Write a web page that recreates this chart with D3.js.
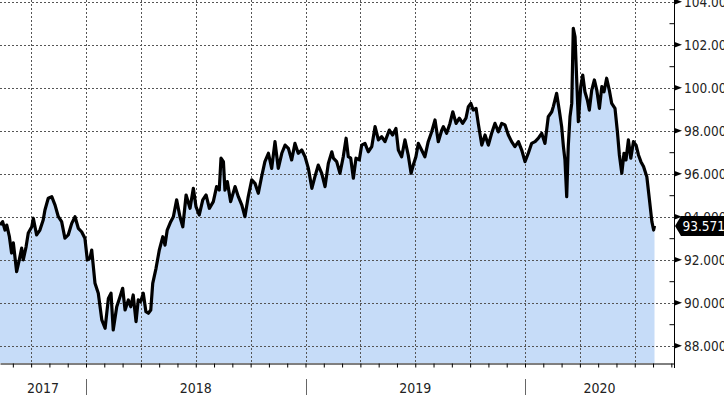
<!DOCTYPE html>
<html>
<head>
<meta charset="utf-8">
<script src="https://cdn.jsdelivr.net/npm/d3@7"></script>
<style>
body { margin: 0; background: #fff; }
svg { display: block; }
</style>
</head>
<body>
<div id="chart"></div>
<script>
// time as decimal years
var years = [
  2017.608,2017.620,2017.631,2017.639,2017.651,2017.661,2017.669,2017.684,2017.696,2017.707,
  2017.714,2017.727,2017.737,2017.753,2017.760,2017.775,2017.790,2017.805,2017.813,2017.828,
  2017.844,2017.859,2017.874,2017.889,2017.904,2017.919,2017.935,2017.950,2017.965,2017.980,
  2017.995,2018.006,2018.018,2018.026,2018.041,2018.056,2018.072,2018.087,2018.102,2018.114,
  2018.124,2018.140,2018.155,2018.167,2018.178,2018.193,2018.204,2018.215,2018.228,2018.238,
  2018.249,2018.261,2018.273,2018.284,2018.295,2018.304,2018.319,2018.334,2018.350,2018.360,
  2018.370,2018.386,2018.398,2018.413,2018.428,2018.441,2018.456,2018.474,2018.489,2018.501,
  2018.516,2018.532,2018.547,2018.562,2018.580,2018.595,2018.607,2018.615,2018.626,2018.633,
  2018.644,2018.659,2018.679,2018.694,2018.710,2018.724,2018.739,2018.755,2018.770,2018.785,
  2018.800,2018.815,2018.831,2018.846,2018.861,2018.876,2018.892,2018.907,2018.922,2018.937,
  2018.952,2018.967,2018.983,2018.998,2019.013,2019.029,2019.043,2019.058,2019.074,2019.089,
  2019.104,2019.120,2019.127,2019.142,2019.157,2019.172,2019.185,2019.195,2019.206,2019.218,
  2019.230,2019.245,2019.256,2019.271,2019.286,2019.302,2019.317,2019.332,2019.347,2019.362,
  2019.382,2019.397,2019.412,2019.423,2019.438,2019.453,2019.468,2019.481,2019.491,2019.503,
  2019.514,2019.529,2019.544,2019.559,2019.575,2019.590,2019.605,2019.621,2019.628,2019.643,
  2019.658,2019.671,2019.686,2019.701,2019.716,2019.731,2019.742,2019.753,2019.764,2019.777,
  2019.787,2019.803,2019.818,2019.833,2019.848,2019.863,2019.879,2019.894,2019.909,2019.924,
  2019.939,2019.954,2019.970,2019.985,2020.000,2020.015,2020.030,2020.046,2020.061,2020.076,
  2020.091,2020.106,2020.122,2020.129,2020.144,2020.156,2020.167,2020.175,2020.182,2020.190,
  2020.197,2020.205,2020.213,2020.220,2020.228,2020.235,2020.243,2020.254,2020.263,2020.273,
  2020.284,2020.293,2020.304,2020.316,2020.327,2020.339,2020.350,2020.360,2020.372,2020.384,
  2020.395,2020.410,2020.421,2020.430,2020.441,2020.451,2020.460,2020.471,2020.482,2020.494,
  2020.506,2020.517,2020.528,2020.540,2020.555,2020.567,2020.578,2020.586,2020.590
];

var values = [
  93.61,93.77,93.38,93.61,93.07,92.31,92.78,91.44,91.99,92.54,
  91.99,92.60,93.24,93.53,93.93,93.15,93.38,93.85,94.31,94.86,
  94.93,94.54,94.00,93.77,93.00,93.15,93.69,94.00,93.46,93.30,
  93.00,91.99,92.07,92.45,90.90,90.44,89.20,88.81,90.20,90.44,
  88.73,89.81,90.28,90.67,89.66,90.13,89.81,90.36,89.12,90.13,
  90.05,90.44,89.58,89.51,89.66,90.90,91.60,92.45,93.07,92.68,
  93.38,93.77,94.00,94.78,94.00,93.53,95.01,94.39,95.32,94.47,
  94.08,94.78,95.01,94.39,94.70,95.40,95.24,96.72,96.56,95.24,
  95.63,94.70,95.40,94.93,94.54,94.00,94.93,95.71,95.55,95.09,
  95.86,96.56,96.95,96.25,97.49,96.25,96.95,97.33,97.18,96.64,
  97.41,96.95,97.10,96.79,96.25,95.32,95.86,96.40,96.02,95.40,
  96.48,97.02,96.72,96.56,96.02,96.79,97.65,96.79,96.72,95.79,
  96.72,96.64,97.33,97.41,97.02,97.26,98.19,97.57,97.72,97.49,
  98.03,97.80,98.11,97.10,96.79,97.57,96.87,96.02,96.40,96.79,
  97.41,97.10,96.79,97.49,97.95,98.50,97.49,98.03,98.19,97.88,
  98.34,98.88,98.34,98.58,98.34,98.58,99.12,99.27,98.96,99.04,
  98.34,97.33,97.80,97.33,97.88,98.34,97.95,98.34,98.27,97.80,
  97.49,97.26,97.49,97.10,96.56,96.95,97.41,97.49,97.65,97.88,
  97.41,98.65,98.88,99.12,99.74,98.96,98.19,97.26,96.64,94.93,
  97.26,98.65,99.27,102.76,102.37,100.51,98.42,100.05,100.59,99.81,
  99.43,98.96,99.89,100.36,99.89,99.04,100.05,99.81,100.44,99.89,
  99.27,99.04,97.95,96.87,96.02,96.95,96.64,97.57,96.72,97.49,
  97.33,96.87,96.56,96.33,95.86,94.78,93.77,93.38,93.571
];

var yTicks = [88, 90, 92, 94, 96, 98, 100, 102, 104];
var yMinorTicks = [89, 91, 93, 95, 97, 99, 101, 103];
var yearLabels = [2017, 2018, 2019, 2020];
var lastValue = 93.571;

var width = 724, height = 395;
var plotRight = 674, plotBottom = 363;
var font = "'Liberation Sans Narrow', 'DejaVu Sans Condensed', 'Arial Narrow', sans-serif";

var data = years.map(function(t, i) { return {t: t, v: values[i]}; });

var svg = d3.select("#chart").append("svg")
  .attr("width", width)
  .attr("height", height);

// scales
var x = d3.scaleLinear()
  .domain([2017.6082, 2020.6788])
  .range([0, plotRight]);

var y = d3.scaleLinear()
  .domain([88, 104])
  .range([345.7, 1.7]);

var quarters = d3.range(2017.75, 2020.6, 0.25);
var months = d3.range(2017 + 8 / 12, 2020.68, 1 / 12);

// area under the line
svg.append("path")
  .datum(data)
  .attr("fill", "#c6dcf8")
  .attr("d", d3.area()
    .x(function(d) { return x(d.t); })
    .y0(plotBottom)
    .y1(function(d) { return y(d.v); }));

// dotted grid
var grid = svg.append("g")
  .attr("stroke", "#555")
  .attr("stroke-width", 1)
  .attr("stroke-dasharray", "2,2");

grid.selectAll("line.h").data(yTicks).enter().append("line")
  .attr("class", "h")
  .attr("x1", 0).attr("x2", plotRight)
  .attr("y1", function(d) { return Math.round(y(d)) + 0.5; })
  .attr("y2", function(d) { return Math.round(y(d)) + 0.5; });

grid.selectAll("line.v").data(quarters).enter().append("line")
  .attr("class", "v")
  .attr("y1", 0).attr("y2", plotBottom)
  .attr("x1", function(d) { return Math.round(x(d)) + 0.5; })
  .attr("x2", function(d) { return Math.round(x(d)) + 0.5; });

// price line
svg.append("path")
  .datum(data)
  .attr("fill", "none")
  .attr("stroke", "#000")
  .attr("stroke-width", 3.2)
  .attr("stroke-linejoin", "round")
  .attr("d", d3.line()
    .x(function(d) { return x(d.t); })
    .y(function(d) { return y(d.v); }));

// x axis with monthly ticks
var xAxis = d3.axisBottom(x)
  .tickValues(months)
  .tickSize(4)
  .tickSizeOuter(0)
  .tickFormat("");

svg.append("g")
  .attr("transform", "translate(0," + (plotBottom + 0.5) + ")")
  .call(xAxis)
  .call(function(g) {
    g.selectAll("path, line").attr("stroke", "#000");
  });

// year separators and labels
svg.selectAll("line.sep").data(yearLabels.slice(1)).enter().append("line")
  .attr("class", "sep")
  .attr("x1", function(d) { return Math.round(x(d)) + 0.5; })
  .attr("x2", function(d) { return Math.round(x(d)) + 0.5; })
  .attr("y1", 379).attr("y2", 395)
  .attr("stroke", "#666");

svg.selectAll("text.year").data(yearLabels).enter().append("text")
  .attr("class", "year")
  .attr("x", function(d) {
    var a = Math.max(x(d), 0), b = Math.min(x(d + 1), plotRight);
    return (a + b) / 2;
  })
  .attr("y", 393)
  .attr("text-anchor", "middle")
  .attr("font-family", font)
  .attr("font-size", 14)
  .attr("fill", "#222")
  .text(function(d) { return d; });

// right y axis
var yAxis = d3.axisRight(y)
  .tickValues(yTicks)
  .tickSize(0)
  .tickPadding(9.5)
  .tickFormat(d3.format(".3f"));

var yg = svg.append("g")
  .attr("transform", "translate(" + (plotRight + 0.5) + ",0)")
  .call(yAxis);

yg.select(".domain").remove();
yg.selectAll("text")
  .attr("font-family", font)
  .attr("font-size", 13.5)
  .attr("fill", "#222");

svg.append("line")
  .attr("x1", plotRight + 0.5).attr("x2", plotRight + 0.5)
  .attr("y1", 0).attr("y2", plotBottom + 5)
  .attr("stroke", "#000");

var yMinor = d3.axisLeft(y)
  .tickValues(yMinorTicks)
  .tickSize(5)
  .tickFormat("");

svg.append("g")
  .attr("transform", "translate(" + (plotRight + 0.5) + ",0)")
  .call(yMinor)
  .call(function(g) {
    g.select(".domain").remove();
    g.selectAll("line").attr("stroke", "#000");
  });

// arrow markers on the major ticks
svg.selectAll("path.arrow").data(yTicks).enter().append("path")
  .attr("class", "arrow")
  .attr("transform", function(d) { return "translate(" + plotRight + "," + y(d) + ")"; })
  .attr("d", "M0,-3L8,0L0,3Z")
  .attr("fill", "#000");

// last value tag
var ly = y(lastValue);
svg.append("path")
  .attr("transform", "translate(" + plotRight + "," + ly + ")")
  .attr("d", "M1,0L7,-10H50V10H7Z")
  .attr("fill", "#000");

svg.append("text")
  .attr("x", plotRight + 8.5)
  .attr("y", ly)
  .attr("dy", "0.36em")
  .attr("font-family", font)
  .attr("font-size", 13.5)
  .attr("fill", "#fff")
  .text(d3.format(".3f")(lastValue));
</script>
</body>
</html>
